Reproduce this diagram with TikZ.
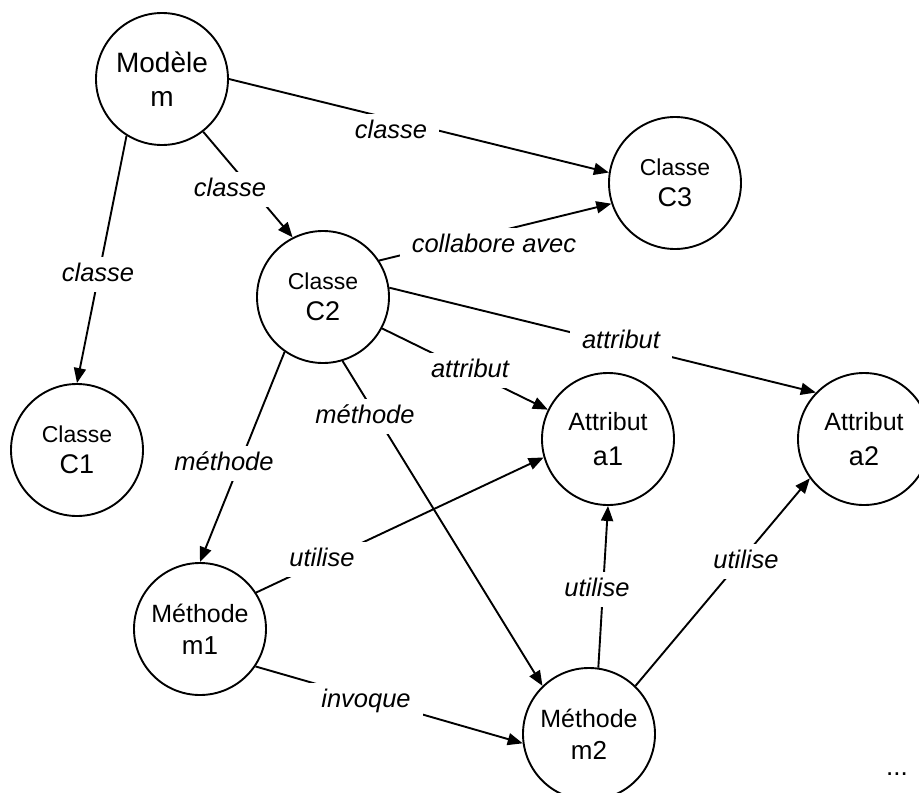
\documentclass[tikz,border=0pt]{standalone}
\usepackage{fontspec}
\setmainfont{Liberation Sans}
\usetikzlibrary{arrows.meta}
\tikzset{
  circ/.style={circle, draw, line width=1.9pt, minimum size=132pt, inner sep=0pt, align=center},
  arr/.style={line width=1.9pt, -{Triangle[length=15pt,width=12pt]}},
  lbl/.style={fill=white, anchor=base, inner xsep=12pt, inner ysep=5pt, text height=19pt, text depth=6pt,
              font=\fontsize{25.5}{30}\selectfont\itshape}
}
\begin{document}
\begin{tikzpicture}[x=1pt,y=-1pt]
\clip (0,0) rectangle (919,793);
% nodes
\node[circ, font=\fontsize{28}{34}\selectfont] (m) at (162,79) {Modèle\\m};
\node[circ, font=\fontsize{27}{31}\selectfont] (C3) at (675,183) {{\fontsize{23}{31}\selectfont Classe}\\C3};
\node[circ, font=\fontsize{27}{31}\selectfont] (C2) at (323,297) {{\fontsize{23}{31}\selectfont Classe}\\C2};
\node[circ, font=\fontsize{27}{31}\selectfont] (C1) at (77,450) {{\fontsize{23}{31}\selectfont Classe}\\C1};
\node[circ, font=\fontsize{27}{35}\selectfont] (a1) at (608,439) {{\fontsize{25}{35}\selectfont Attribut}\\a1};
\node[circ, font=\fontsize{27}{35}\selectfont] (a2) at (864,439) {{\fontsize{25}{35}\selectfont Attribut}\\a2};
\node[circ, font=\fontsize{26}{32}\selectfont] (m1) at (200,629) {{\fontsize{25}{32}\selectfont Méthode}\\m1};
\node[circ, font=\fontsize{26}{32}\selectfont] (m2) at (589,734) {{\fontsize{25}{32}\selectfont Méthode}\\m2};
% edges
\draw[arr] (m.0) -- (C3.171);
\draw[arr] (C2.33) -- (C3.198);
\draw[arr] (m.-52) -- (C2.117);
\draw[arr] (m.238) -- (C1.90);
\draw[arr] (C2.8) -- (a2.136);
\draw[arr] (C2.-28) -- (a1.154);
\draw[arr] (C2.235) -- (m1.90);
\draw[arr] (C2.-73) -- (m2.134);
\draw[arr] (m1.33) -- (a1.196);
\draw[arr] (m1.-34) -- (m2.188);
\draw[arr] (m2.82) -- (a1.270);
\draw[arr] (m2.46) -- (a2.216);
% labels
\node[lbl] (l1) at (391,138) {classe};
\node[lbl] (l2) at (494,252) {collabore avec};
\node[lbl] (l3) at (230,196) {classe};
\node[lbl] (l4) at (98,281) {classe};
\node[lbl] (l5) at (621,348) {attribut};
\node[lbl] (l6) at (470,377) {attribut};
\node[lbl] (l7) at (224,470) {méthode};
\node[lbl] (l8) at (365,423) {méthode};
\node[lbl] (l9) at (322,566) {utilise};
\node[lbl] (l10) at (366,707) {invoque};
\node[lbl] (l11) at (597,596) {utilise};
\node[lbl] (l12) at (746,568) {utilise};
\node[anchor=base, font=\fontsize{26}{30}\selectfont] (dots) at (897,775) {...};
\end{tikzpicture}
\end{document}
